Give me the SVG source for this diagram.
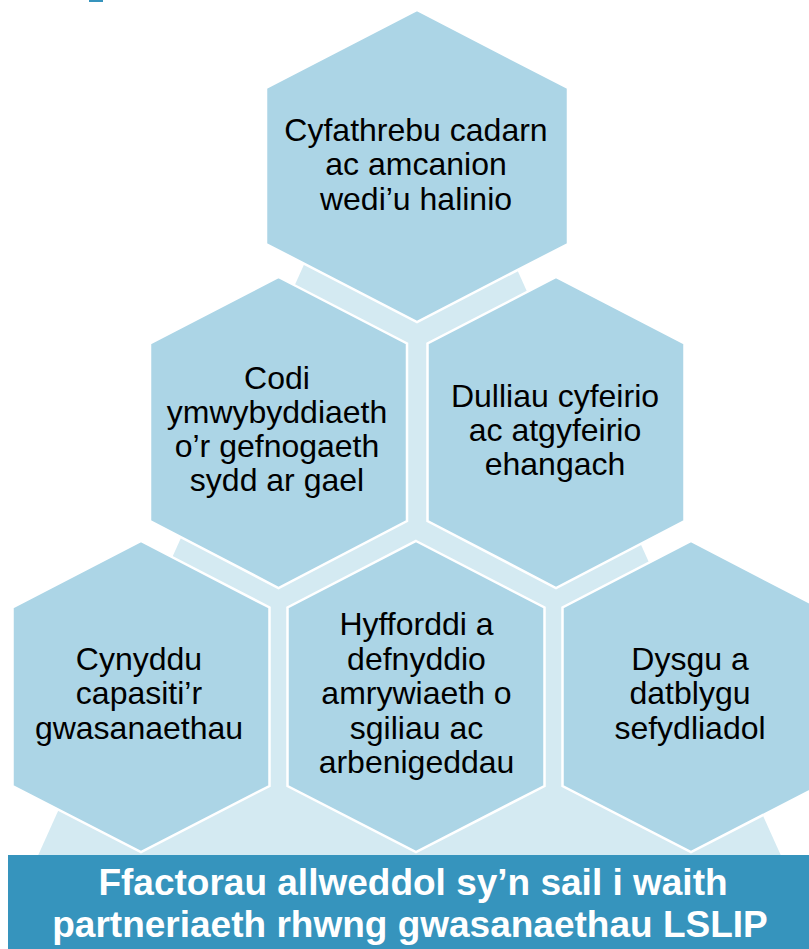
<svg xmlns="http://www.w3.org/2000/svg" width="809" height="949" viewBox="0 0 809 949">
<style>
.hex{fill:#ACD5E6;stroke:#FFFFFF;stroke-width:2.5;stroke-linejoin:miter}
.lbl{font-family:"Liberation Sans",Arial,sans-serif;font-size:32px;fill:#000000;text-anchor:middle}
.ban{font-family:"Liberation Sans",Arial,sans-serif;font-size:37px;font-weight:bold;fill:#FFFFFF;text-anchor:middle}
</style>
<rect x="0" y="0" width="809" height="949" fill="#FFFFFF"/>
<rect x="89" y="0" width="14" height="2" fill="#3694BD"/>
<g id="connectors">
<polygon points="409.4,30.4 18,900 801,900" fill="#D4EAF2"/>
</g>
<g id="node-top">
<polygon class="hex" points="417,10 568,88 568,244 417,322 266,244 266,88"/>
<text class="lbl"><tspan x="416" y="140.5">Cyfathrebu cadarn</tspan><tspan x="416" y="175">ac amcanion</tspan><tspan x="416" y="209.5">wedi’u halinio</tspan></text>
</g>
<g id="node-mid-left">
<polygon class="hex" points="278.5,277 407,343.5 407,521 278.5,588 150,521 150,343.5"/>
<text class="lbl"><tspan x="277" y="388.5">Codi</tspan><tspan x="277" y="422.5">ymwybyddiaeth</tspan><tspan x="277" y="456.5">o’r gefnogaeth</tspan><tspan x="277" y="490.5">sydd ar gael</tspan></text>
</g>
<g id="node-mid-right">
<polygon class="hex" points="556,277 684.5,343.5 684.5,521 556,588 427.5,521 427.5,343.5"/>
<text class="lbl"><tspan x="555" y="406.5">Dulliau cyfeirio</tspan><tspan x="555" y="440.5">ac atgyfeirio</tspan><tspan x="555" y="475">ehangach</tspan></text>
</g>
<g id="node-bottom-left">
<polygon class="hex" points="141,541 269.5,607.5 269.5,786 141,852 12.5,786 12.5,607.5"/>
<text class="lbl"><tspan x="139" y="669.5">Cynyddu</tspan><tspan x="139" y="704">capasiti’r</tspan><tspan x="139" y="738.5">gwasanaethau</tspan></text>
</g>
<g id="node-bottom-mid">
<polygon class="hex" points="416,541 544.5,607.5 544.5,786 416,852 287.5,786 287.5,607.5"/>
<text class="lbl"><tspan x="416.5" y="635">Hyfforddi a</tspan><tspan x="416.5" y="669.5">defnyddio</tspan><tspan x="416.5" y="704">amrywiaeth o</tspan><tspan x="416.5" y="738.5">sgiliau ac</tspan><tspan x="416.5" y="773">arbenigeddau</tspan></text>
</g>
<g id="node-bottom-right">
<polygon class="hex" points="691,541 819.5,607.5 819.5,786 691,852 562.5,786 562.5,607.5"/>
<text class="lbl"><tspan x="690" y="669.5">Dysgu a</tspan><tspan x="690" y="704">datblygu</tspan><tspan x="690" y="738.5">sefydliadol</tspan></text>
</g>
<g id="banner">
<rect x="8" y="855" width="810" height="100" fill="#3694BD"/>
<text class="ban"><tspan x="413" y="895">Ffactorau allweddol sy’n sail i waith</tspan><tspan x="410" y="936.5">partneriaeth rhwng gwasanaethau LSLIP</tspan></text>
</g>
</svg>
